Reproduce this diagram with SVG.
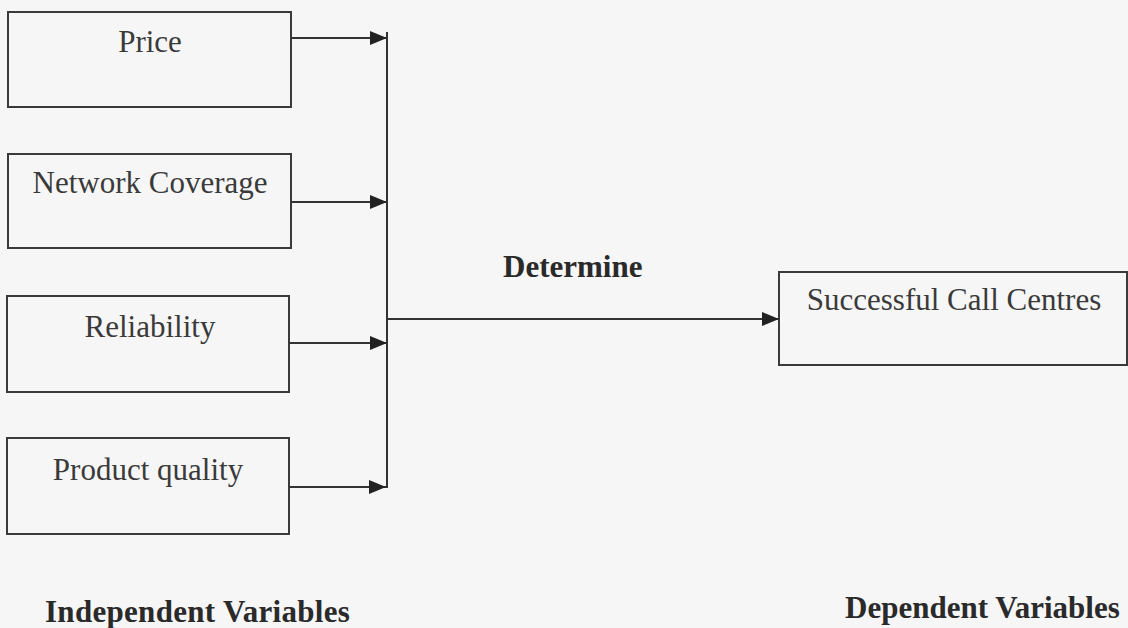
<svg xmlns="http://www.w3.org/2000/svg" width="1128" height="628" viewBox="0 0 1128 628">
  <defs>
    <marker id="arrow" markerWidth="17" markerHeight="14" refX="17" refY="7" orient="auto" markerUnits="userSpaceOnUse">
      <path d="M0,0 L17,7 L0,14 Z" fill="#222222"/>
    </marker>
    <style>
      .box { fill: none; stroke: #3a3a3a; stroke-width: 2; }
      .lbl { font-family: "Liberation Serif", "Times New Roman", serif; font-size: 31px; fill: #3a3a3a; text-anchor: middle; }
      .bold { font-family: "Liberation Serif", "Times New Roman", serif; font-size: 31px; font-weight: bold; fill: #2a2a2a; }
      .conn { fill: none; stroke: #333333; stroke-width: 2; }
    </style>
  </defs>
  <rect x="0" y="0" width="1128" height="628" fill="#f6f6f6"/>

  <g id="node-price">
    <rect class="box" x="8" y="12" width="283" height="95"/>
    <text class="lbl" x="150" y="52">Price</text>
  </g>
  <g id="node-network">
    <rect class="box" x="8" y="154" width="283" height="94"/>
    <text class="lbl" x="150" y="193">Network Coverage</text>
  </g>
  <g id="node-reliability">
    <rect class="box" x="7" y="296" width="282" height="96"/>
    <text class="lbl" x="150" y="337">Reliability</text>
  </g>
  <g id="node-product">
    <rect class="box" x="7" y="438" width="282" height="96"/>
    <text class="lbl" x="148" y="480">Product quality</text>
  </g>
  <g id="node-success">
    <rect class="box" x="779" y="272" width="348" height="93"/>
    <text class="lbl" x="954" y="310">Successful Call Centres</text>
  </g>

  <g id="connectors">
    <line class="conn" x1="291" y1="38" x2="387" y2="38" marker-end="url(#arrow)"/>
    <line class="conn" x1="291" y1="202" x2="387" y2="202" marker-end="url(#arrow)"/>
    <line class="conn" x1="289" y1="343" x2="387" y2="343" marker-end="url(#arrow)"/>
    <line class="conn" x1="289" y1="487" x2="386" y2="487" marker-end="url(#arrow)"/>
    <line class="conn" x1="387" y1="32" x2="387" y2="488"/>
    <line class="conn" x1="387" y1="319" x2="779" y2="319" marker-end="url(#arrow)"/>
  </g>

  <g id="labels">
    <text class="bold" x="503" y="277">Determine</text>
    <text class="bold" x="45" y="622" letter-spacing="0.3">Independent Variables</text>
    <text class="bold" x="845" y="618">Dependent Variables</text>
  </g>
</svg>
